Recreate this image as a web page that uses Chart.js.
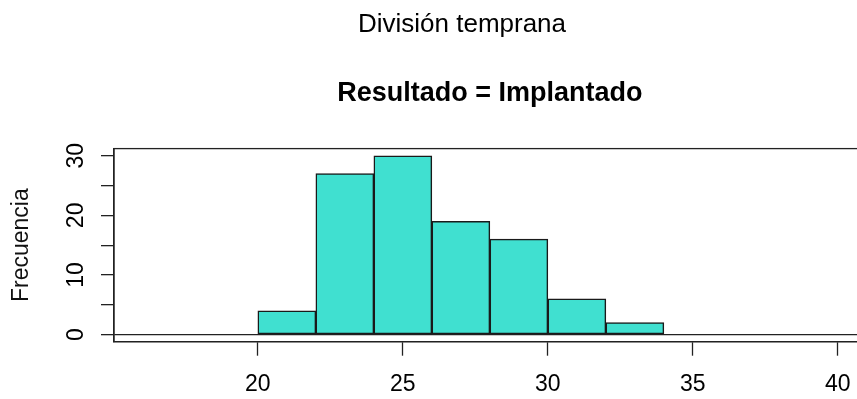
<!DOCTYPE html>
<html>
<head>
<meta charset="utf-8">
<script src="https://cdn.jsdelivr.net/npm/chart.js@4/dist/chart.umd.min.js"></script>
<style>
  html, body { margin: 0; padding: 0; background: #fff; overflow: hidden; }
  #wrap { width: 924px; height: 399px; }
</style>
</head>
<body>
<div id="wrap"><canvas id="hist" width="924" height="399"></canvas></div>
<script>
// Histogram bins (left and right edges) and their counts
const binStarts = [20, 22, 24, 26, 28, 30, 32];
const binEnds   = [22, 24, 26, 28, 30, 32, 34];
const counts    = [4, 27, 30, 19, 16, 6, 2];

// Axis ticks
const xTicks = [20, 25, 30, 35, 40];
const yTicks = [0, 5, 10, 15, 20, 25, 30];
const yLabelled = [0, 10, 20, 30];

const FONT = '"Liberation Sans", Arial, Helvetica, sans-serif';
const INK = '#222';

// Draw the plot frame around the chart area
const framePlugin = {
  id: 'frame',
  afterDatasetsDraw(chart) {
    const { ctx, chartArea: a } = chart;
    ctx.save();
    ctx.strokeStyle = INK;
    ctx.lineWidth = 1.3;
    ctx.strokeRect(a.left, a.top, a.right - a.left, a.bottom - a.top);
    ctx.restore();
  }
};

const bars = binStarts.map((s, i) => ({ x: (s + binEnds[i]) / 2, y: counts[i] }));

new Chart(document.getElementById('hist'), {
  type: 'bar',
  data: {
    datasets: [{
      data: bars,
      backgroundColor: '#40E0D0',
      borderColor: '#1a1a1a',
      borderWidth: 1.5,
      borderSkipped: false,
      barPercentage: 1,
      categoryPercentage: 1,
      grouped: false
    }]
  },
  options: {
    responsive: false,
    animation: false,
    events: [],
    layout: { padding: 0 },
    plugins: {
      legend: { display: false },
      tooltip: { enabled: false },
      title: {
        display: true,
        text: 'División temprana',
        color: '#000',
        font: { family: FONT, size: 26, weight: 'normal' },
        padding: { top: 9, bottom: 0 }
      },
      subtitle: {
        display: true,
        fullSize: false,
        text: 'Resultado = Implantado',
        color: '#000',
        font: { family: FONT, size: 27, weight: 'bold' },
        padding: { top: 37, bottom: 39 }
      }
    },
    scales: {
      x: {
        type: 'linear',
        min: 15.04,
        max: 40.96,
        offset: false,
        afterBuildTicks(scale) { scale.ticks = xTicks.map(v => ({ value: v })); },
        afterFit(scale) { scale.height = 57.3; },
        ticks: {
          autoSkip: false,
          maxRotation: 0,
          padding: 15.5,
          color: '#000',
          font: { family: FONT, size: 23 },
          callback: v => String(v)
        },
        grid: {
          offset: false,
          drawOnChartArea: false,
          drawTicks: true,
          tickLength: 14,
          tickColor: INK,
          tickWidth: 1.3
        },
        border: { display: true, color: INK, width: 1.3 }
      },
      y: {
        type: 'linear',
        min: -1.2,
        max: 31.2,
        afterBuildTicks(scale) { scale.ticks = yTicks.map(v => ({ value: v })); },
        afterFit(scale) { scale.width = 114; },
        ticks: {
          autoSkip: false,
          minRotation: 90,
          maxRotation: 90,
          crossAlign: 'center',
          padding: 11.2,
          color: '#000',
          font: { family: FONT, size: 23 },
          callback: v => (yLabelled.includes(v) ? String(v) : '')
        },
        grid: {
          drawOnChartArea: true,
          color: c => (c.tick && c.tick.value === 0 ? INK : 'rgba(0,0,0,0)'),
          lineWidth: 1.3,
          drawTicks: true,
          tickLength: 13,
          tickColor: INK,
          tickWidth: 1.3
        },
        border: { display: true, color: INK, width: 1.3 },
        title: {
          display: true,
          text: 'Frecuencia',
          color: '#111',
          font: { family: FONT, size: 23 },
          padding: { top: 8, bottom: 0 }
        }
      },
      // empty right margin of the plotting region
      margin: {
        type: 'linear',
        position: 'right',
        display: true,
        afterFit(scale) { scale.width = 58.3; },
        ticks: { display: false },
        grid: { display: false },
        border: { display: false }
      }
    }
  },
  plugins: [framePlugin]
});
</script>
</body>
</html>
